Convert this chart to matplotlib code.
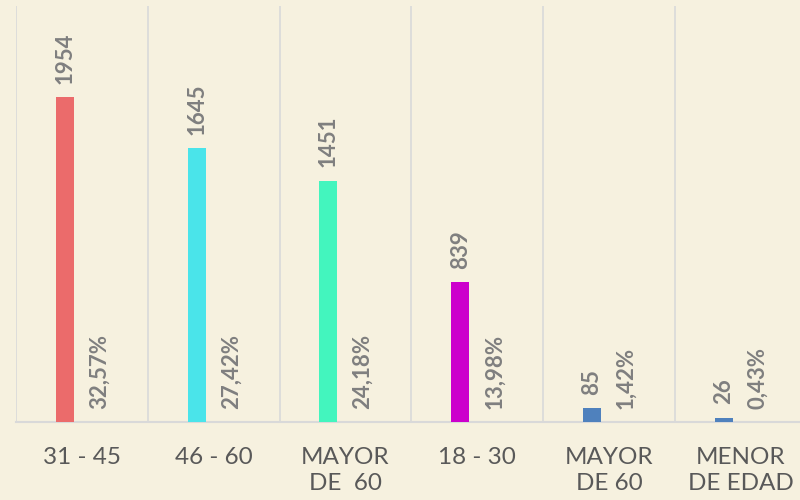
import matplotlib
matplotlib.use("Agg")
import matplotlib.pyplot as plt
import numpy as np

categories = ["31 - 45", "46 - 60", "MAYOR\nDE  60", "18 - 30", "MAYOR\nDE 60", "MENOR\nDE EDAD"]
counts = [1954, 1645, 1451, 839, 85, 26]
percents = [32.57, 27.42, 24.18, 13.98, 1.42, 0.43]
colors = ["#EB6B6B", "#4AE4EA", "#43F5BE", "#CC00CC", "#4F81BD", "#4F81BD"]

bg = "#F6F1DF"
fig = plt.figure(figsize=(8, 5), dpi=100, facecolor=bg)
ax = fig.add_axes([16/800, 78/500, 790.8/800, 416/500])
ax.set_facecolor(bg)

x = np.arange(len(categories))
off = 0.13
w = 0.137
b1 = ax.bar(x - off, counts, width=w, color=colors, zorder=3)
b2 = ax.bar(x + off, [p / 100 for p in percents], width=w, color=colors, zorder=3)

ax.bar_label(b1, labels=[str(c) for c in counts], rotation=90, padding=9.5,
             fontsize=16, fontweight="bold", color="#7F7F7F", family="Lato")
ax.bar_label(b2, labels=[f"{p:.2f}%".replace(".", ",") for p in percents], rotation=90,
             padding=9.5, fontsize=16, fontweight="bold", color="#7F7F7F", family="Lato")

ax.set_xlim(-0.5, len(categories) - 0.5)
ax.set_ylim(0, 2500)
for b in np.arange(-0.5, len(categories), 1.0):
    ax.axvline(b, color="#D9D9D9", lw=1.2, zorder=1)

ax.set_xticks(x)
ax.set_xticklabels(categories, fontsize=17.5, color="#595959", family="Lato", linespacing=1.3)
ax.tick_params(axis="x", length=0, pad=18)
ax.set_yticks([])
for s in ["left", "right", "top"]:
    ax.spines[s].set_visible(False)
ax.spines["bottom"].set_color("#D9D9D9")
ax.spines["bottom"].set_linewidth(1.5)

fig.savefig("out.png", dpi=100, facecolor=bg)
